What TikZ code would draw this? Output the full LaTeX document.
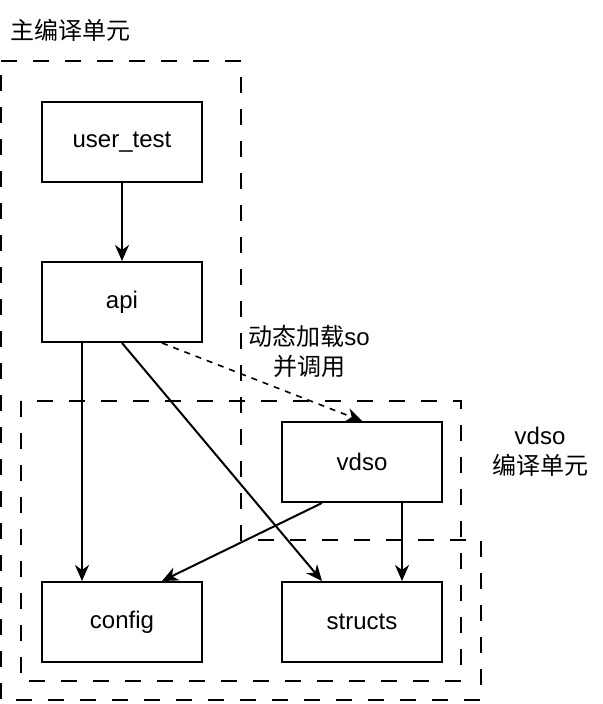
\documentclass[tikz,border=0pt]{standalone}
\usepackage{fontspec}
\setmainfont{Liberation Sans}
\newfontfamily\cjk{Noto Sans CJK SC}
\usetikzlibrary{arrows.meta}
\begin{document}
\begin{tikzpicture}[x=0.5pt,y=-0.5pt,
  every node/.style={font=\fontsize{12}{15}\selectfont, inner sep=0pt},
  box/.style={draw=black, line width=1pt, minimum width=80pt, minimum height=40pt, anchor=north west, fill=white},
  unit/.style={draw=black, line width=1pt, dash pattern=on 8pt off 8pt},
  arr/.style={draw=black, line width=1pt, -{Stealth[length=8pt,width=7pt,inset=2.5pt]}},
  darr/.style={arr, line width=0.8pt, dash pattern=on 3pt off 3pt},
  lbl/.style={align=center}]
\useasboundingbox (0,0) rectangle (602,704);
% compile units
\draw[unit] (1,61) -- (241,61) -- (241,540) -- (481,540) -- (481,700) -- (1,700) -- cycle;
\draw[unit] (21,401) rectangle (461,681);
% nodes
\node[box] (user) at (41,101) {user\_test};
\node[box] (api) at (41,261) {api};
\node[box] (vdso) at (281,421) {vdso};
\node[box] (config) at (41,581) {config};
\node[box] (structs) at (281,581) {structs};
% labels
\node[anchor=west] (mainlbl) at (10,30) {\cjk 主编译单元};
\node[lbl] (loadlbl) at (309,351) {{\cjk 动态加载}so\\{\cjk 并调用}};
\node[lbl] (vdsolbl) at (540,452) {vdso\\{\cjk 编译单元}};
% connectors
\draw[arr] (user.south) -- (api.north);
\draw[arr] ([xshift=-20pt]api.south) -- ([xshift=-20pt]config.north);
\draw[arr] (api.south) -- ([xshift=-20pt]structs.north);
\draw[darr] ([xshift=20pt]api.south) -- (vdso.north);
\draw[arr] ([xshift=-20pt]vdso.south) -- ([xshift=20pt]config.north);
\draw[arr] ([xshift=20pt]vdso.south) -- ([xshift=20pt]structs.north);
\end{tikzpicture}
\end{document}
